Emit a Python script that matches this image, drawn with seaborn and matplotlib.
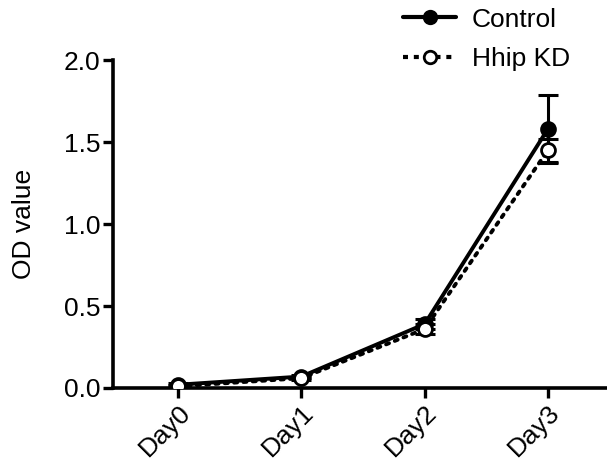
import numpy as np
import pandas as pd
import matplotlib
matplotlib.use('Agg')
import matplotlib.pyplot as plt
import seaborn as sns
from matplotlib.lines import Line2D

# data
days = ['Day0', 'Day1', 'Day2', 'Day3']
control = [0.02, 0.07, 0.39, 1.58]
control_err = [0.01, 0.01, 0.03, 0.21]
hhip = [0.01, 0.06, 0.36, 1.45]
hhip_err = [0.01, 0.01, 0.03, 0.07]
groups = ['Control', 'Hhip KD']

sns.set_style('ticks')
plt.rcParams['font.family'] = ['Liberation Sans', 'DejaVu Sans']
plt.rcParams['text.color'] = 'black'
plt.rcParams['axes.labelcolor'] = 'black'
fs = 19

df = pd.DataFrame({
    'day': list(range(len(days))) * 2,
    'od': control + hhip,
    'err': control_err + hhip_err,
    'group': [groups[0]] * len(days) + [groups[1]] * len(days),
})

fig = plt.figure(figsize=(6.07, 4.63), dpi=100)
ax = fig.add_axes([0.186, 0.162, 0.814, 0.708])

styles = {'Control': dict(ls='-', mfc='black'),
          'Hhip KD': dict(ls=(0, (0.8, 1.6)), mfc='white')}

for g in groups:
    sub = df[df['group'] == g]
    ax.errorbar(sub['day'], sub['od'], yerr=sub['err'], fmt='none',
                ecolor='black', elinewidth=2.2, capsize=7, capthick=2.2, zorder=2)
    sns.lineplot(data=sub, x='day', y='od', ax=ax, color='black',
                 linewidth=2.8, linestyle=styles[g]['ls'], marker='o',
                 markersize=10, markerfacecolor=styles[g]['mfc'],
                 markeredgecolor='black', markeredgewidth=2,
                 dash_capstyle='round', zorder=3)

ax.set_xlim(-0.53, 3.48)
ax.set_ylim(0, 2.0)
ax.set_yticks([0, 0.5, 1.0, 1.5, 2.0])
ax.set_yticklabels(['0.0', '0.5', '1.0', '1.5', '2.0'], fontsize=fs)
ax.set_xticks(range(len(days)))
ax.set_xticklabels(days, rotation=45, ha='right', rotation_mode='anchor', fontsize=fs)
ax.set_xlabel('')
ax.set_ylabel('OD value', fontsize=fs, labelpad=20)

for s in ['top', 'right']:
    ax.spines[s].set_visible(False)
for s in ['left', 'bottom']:
    ax.spines[s].set_linewidth(2.6)
    ax.spines[s].set_color('black')
ax.tick_params(width=2.4, length=7, direction='out', pad=2, colors='black')

handles = [
    Line2D([], [], color='black', lw=3, ls='-', marker='o', ms=9,
           mfc='black', mec='black', mew=2),
    Line2D([], [], color='black', lw=3, ls=(0, (1.2, 1.4)), marker='o', ms=9,
           mfc='white', mec='black', mew=2),
]
fig.legend(handles, groups, loc='upper left', bbox_to_anchor=(0.625, 1.035),
           frameon=False, fontsize=fs, handlelength=2.0, labelspacing=0.6,
           handletextpad=0.6)

fig.savefig('out.png', dpi=100)
